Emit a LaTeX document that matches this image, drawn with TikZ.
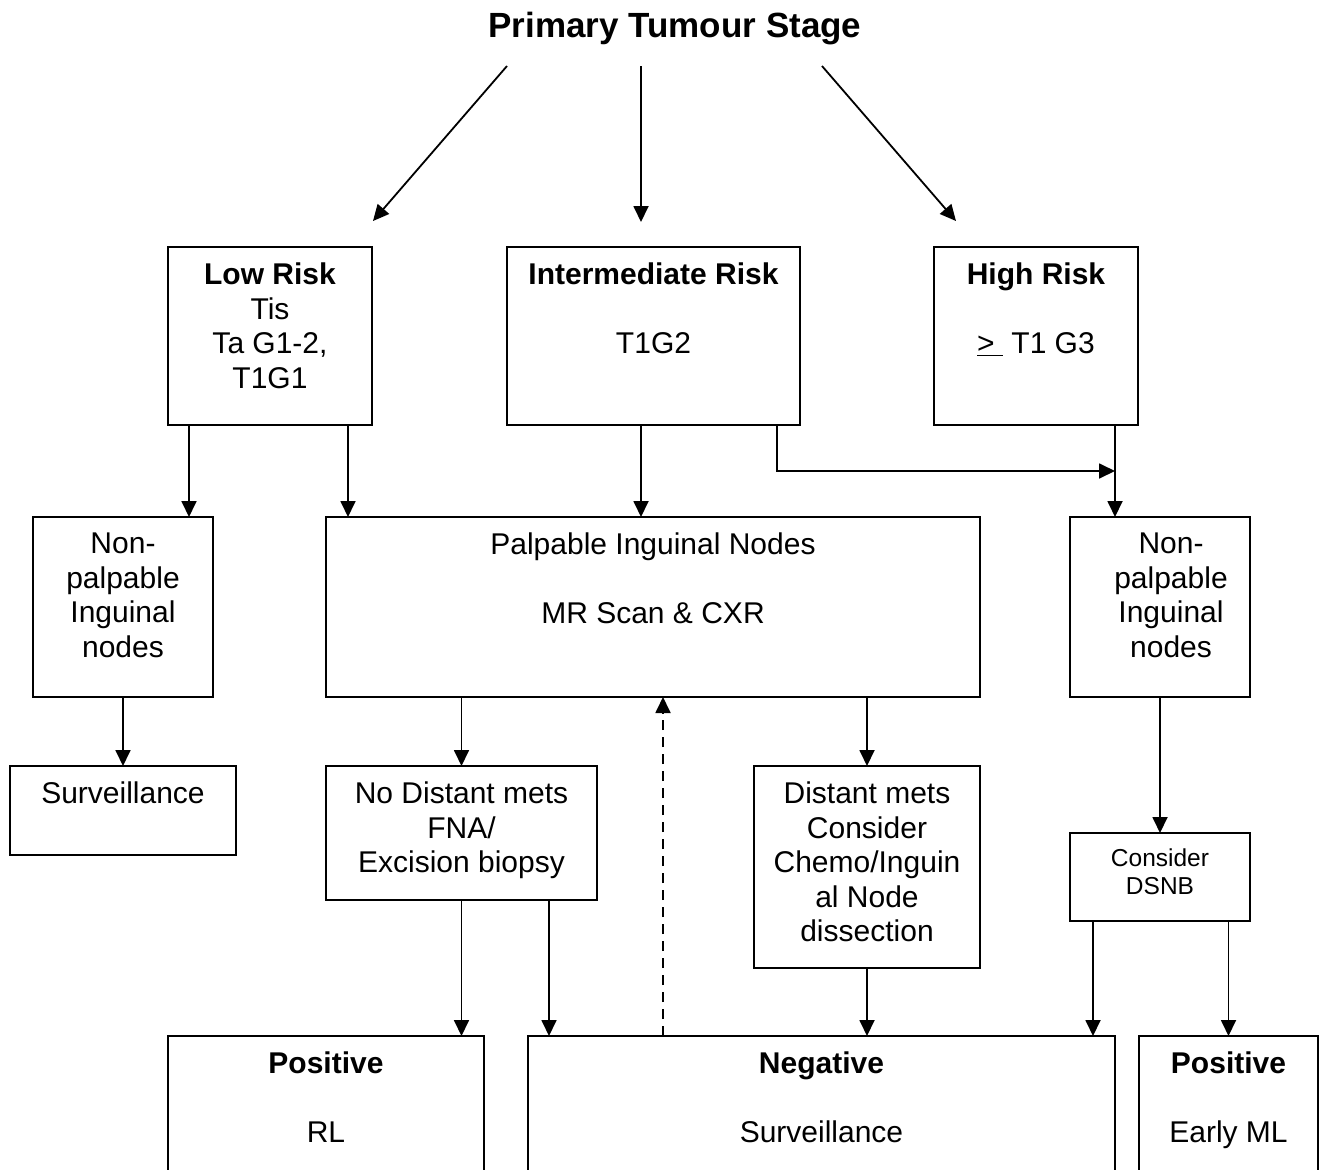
\documentclass[tikz,border=0pt]{standalone}
\usepackage{fontspec}
\setmainfont{Liberation Sans}
\usetikzlibrary{arrows.meta,calc}
\begin{document}
\begin{tikzpicture}[x=1pt,y=-1pt,
  box/.style={draw, line width=2pt, rectangle, inner sep=0pt, outer sep=0pt},
  txt/.style={align=center, inner sep=0pt, anchor=north, font=\fontsize{30}{34.5}\selectfont},
  smalltxt/.style={align=center, inner sep=0pt, anchor=north, font=\fontsize{24.5}{28}\selectfont},
  arr/.style={line width=1.8pt, -{Triangle[length=16pt,width=15pt]}},
  dasharr/.style={arr, dash pattern=on 10pt off 7pt}]
\useasboundingbox (0,0) rectangle (1320,1170);
\clip (0,0) rectangle (1320,1170);
\fill[white] (0,0) rectangle (1320,1170);

% title
\node[anchor=base, inner sep=0pt, font=\fontsize{35}{40}\selectfont\bfseries] (title) at (675,37.5) {Primary Tumour Stage};
\coordinate (t1) at (507,66);
\coordinate (e1) at (373,221);
\coordinate (t2) at (641,66);
\coordinate (e2) at (641,222);
\coordinate (t3) at (822,66);
\coordinate (e3) at (956,221);

% boxes
\node[box, minimum width=204pt, minimum height=178pt] (low) at (270,336) {};
\node[box, minimum width=293pt, minimum height=178pt] (mid) at (653.5,336) {};
\node[box, minimum width=204pt, minimum height=178pt] (high) at (1036,336) {};
\node[box, minimum width=180pt, minimum height=180pt] (npl) at (123,607) {};
\node[box, minimum width=654pt, minimum height=180pt] (palp) at (653,607) {};
\node[box, minimum width=180pt, minimum height=180pt] (npr) at (1160,607) {};
\node[box, minimum width=226pt, minimum height=89pt] (surv) at (123,810.5) {};
\node[box, minimum width=271pt, minimum height=134pt] (nodist) at (461.5,833) {};
\node[box, minimum width=226pt, minimum height=202pt] (dist) at (867,867) {};
\node[box, minimum width=180pt, minimum height=88pt] (dsnb) at (1160,877) {};
\node[box, minimum width=316pt, minimum height=164pt] (posrl) at (326,1118) {};
\node[box, minimum width=587pt, minimum height=164pt] (neg) at (821.5,1118) {};
\node[box, minimum width=179pt, minimum height=164pt] (posml) at (1228.5,1118) {};

% texts
\node[txt] (lowT) at ([yshift=-16pt]low.north) {\textbf{Low Risk}\\Tis\\Ta G1-2,\\T1G1};
\node[txt] (midT) at ([yshift=-16pt]mid.north) {\textbf{Intermediate Risk}\\~\\T1G2};
\node[txt] (highT) at ([yshift=-16pt]high.north) {\textbf{High Risk}\\~\\\underline{>\ }\ T1 G3};
\node[txt] (nplT) at ([yshift=-16pt]npl.north) {Non-\\palpable\\Inguinal\\nodes};
\node[txt] (palpT) at ([yshift=-16pt]palp.north) {Palpable Inguinal Nodes\\~\\MR Scan \& CXR};
\node[txt] (nprT) at ([xshift=11pt,yshift=-16pt]npr.north) {Non-\\palpable\\Inguinal\\nodes};
\node[txt] (survT) at ([yshift=-16pt]surv.north) {Surveillance};
\node[txt] (nodistT) at ([yshift=-16pt]nodist.north) {No Distant mets\\FNA/\\Excision biopsy};
\node[txt] (distT) at ([yshift=-16pt]dist.north) {Distant mets\\Consider\\Chemo/Inguin\\al Node\\dissection};
\node[smalltxt] (dsnbT) at ([yshift=-16pt]dsnb.north) {Consider\\DSNB};
\node[txt] (posrlT) at ([yshift=-16pt]posrl.north) {\textbf{Positive}\\~\\RL};
\node[txt] (negT) at ([yshift=-16pt]neg.north) {\textbf{Negative}\\~\\Surveillance};
\node[txt] (posmlT) at ([yshift=-16pt]posml.north) {\textbf{Positive}\\~\\Early ML};

% connectors
\draw[arr] (t1) -- (e1);
\draw[arr] (t2) -- (e2);
\draw[arr] (t3) -- (e3);

\draw[arr] ([xshift=21pt]low.south west) -- ([xshift=21pt]low.south west |- npl.north);
\draw[arr] ([xshift=-24pt]low.south east) -- ([xshift=-24pt]low.south east |- palp.north);
\draw[arr] ([xshift=134pt]mid.south west) -- ([xshift=134pt]mid.south west |- palp.north);
\coordinate (j) at ([xshift=-23pt,yshift=-46pt]high.south east);
\draw[arr] ([xshift=-23pt]mid.south east) |- (j);
\draw[arr] ([xshift=-23pt]high.south east) -- ([xshift=-23pt]high.south east |- npr.north);

\draw[arr] (npl.south) -- (surv.north);
\draw[arr] (nodist.north |- palp.south) -- (nodist.north);
\draw[arr] (dist.north |- palp.south) -- (dist.north);
\draw[dasharr] ([xshift=135pt]neg.north west) -- ([xshift=135pt]neg.north west |- palp.south);

\draw[arr] (nodist.south) -- (nodist.south |- posrl.north);
\draw[arr] ([xshift=-48pt]nodist.south east) -- ([xshift=-48pt]nodist.south east |- neg.north);
\draw[arr] (dist.south) -- (dist.south |- neg.north);
\draw[arr] (npr.south) -- (dsnb.north);
\draw[arr] ([xshift=23pt]dsnb.south west) -- ([xshift=23pt]dsnb.south west |- neg.north);
\draw[arr] (posml.north |- dsnb.south) -- (posml.north);
\end{tikzpicture}
\end{document}
